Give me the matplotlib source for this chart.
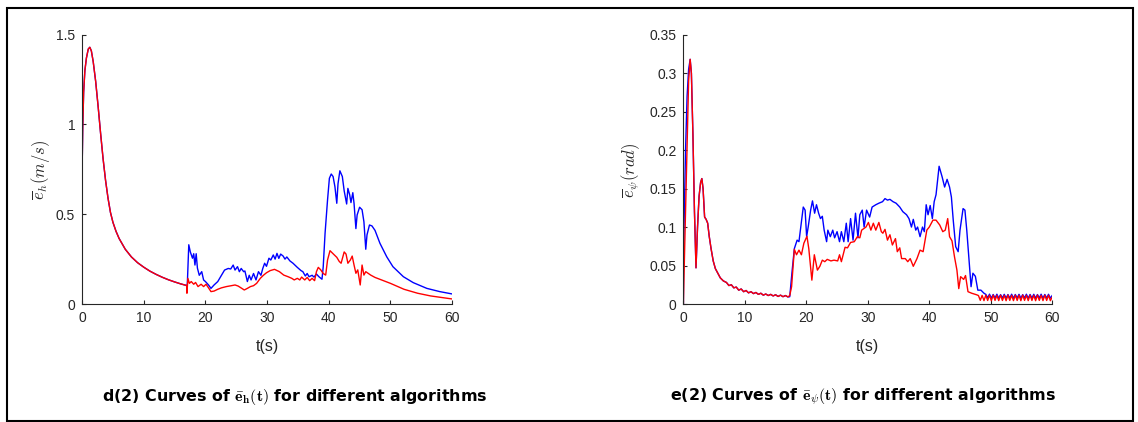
import matplotlib
matplotlib.use("Agg")
import matplotlib.pyplot as plt
from matplotlib.patches import Rectangle

plt.rcParams['font.family'] = ['Liberation Sans', 'DejaVu Sans']
plt.rcParams['mathtext.fontset'] = 'cm'

# ---------------- Panel d(2): e_h ----------------
h_common_t = [0, 0.1, 0.25, 0.45, 0.7, 1.0, 1.25, 1.5, 1.8, 2.2, 2.6, 3.0, 3.4, 3.8, 4.2, 4.6,
              5.0, 5.5, 6.0, 7.0, 8.0, 9.0, 10, 11, 12, 13, 14, 15, 16, 16.95]
h_common_v = [0.74, 0.98, 1.18, 1.30, 1.37, 1.42, 1.43, 1.41, 1.35, 1.24, 1.10, 0.95, 0.81, 0.69, 0.59, 0.51,
              0.455, 0.405, 0.365, 0.305, 0.262, 0.23, 0.205, 0.183, 0.165, 0.149, 0.135, 0.123, 0.112, 0.103]

h_blue_t = [17.0, 17.05, 17.3, 17.55, 17.9, 18.1, 18.3, 18.5, 18.7, 19.0, 19.4, 19.7, 20.0, 20.5, 20.9, 21.4,
            22.0, 22.6, 23.1, 23.7, 24.1, 24.5, 24.8, 25.2, 25.5, 25.8, 26.2, 26.4, 26.8, 27.1, 27.4, 27.8,
            28.2, 28.6, 29.0, 29.3, 29.6, 29.9, 30.3, 30.6, 31.0, 31.3, 31.6, 31.9, 32.2, 32.6, 32.9, 33.2,
            33.7, 34.2, 34.9, 35.5, 35.8, 36.2, 36.5, 36.8, 37.3, 37.6, 38.0, 38.4, 38.9, 39.1, 39.4, 39.8,
            40.1, 40.4, 40.7, 41.0, 41.3, 41.5, 41.8, 42.2, 42.5, 42.9, 43.1, 43.4, 43.6, 43.9, 44.1, 44.4,
            44.6, 45.0, 45.4, 45.7, 46.0, 46.2, 46.6, 47.0, 47.5, 48.3, 49.4, 50.4, 52.1, 53.7, 55.9, 58.0, 60]
h_blue_v = [0.07, 0.10, 0.33, 0.29, 0.255, 0.28, 0.217, 0.28, 0.20, 0.16, 0.18, 0.134, 0.125, 0.106, 0.087, 0.106,
            0.125, 0.16, 0.189, 0.198, 0.195, 0.217, 0.189, 0.208, 0.18, 0.198, 0.18, 0.184, 0.125, 0.16, 0.134, 0.17,
            0.134, 0.18, 0.16, 0.198, 0.227, 0.21, 0.255, 0.245, 0.273, 0.25, 0.282, 0.254, 0.278, 0.267, 0.25, 0.262,
            0.24, 0.227, 0.204, 0.186, 0.18, 0.156, 0.17, 0.152, 0.16, 0.15, 0.167, 0.152, 0.138, 0.207, 0.394, 0.579,
            0.70, 0.724, 0.71, 0.653, 0.561, 0.67, 0.742, 0.71, 0.63, 0.557, 0.644, 0.607, 0.565, 0.62, 0.56, 0.42,
            0.496, 0.539, 0.525, 0.458, 0.305, 0.385, 0.44, 0.435, 0.41, 0.338, 0.263, 0.208, 0.152, 0.119, 0.087, 0.069, 0.056]

h_red_t = [17.0, 17.15, 17.4, 17.7, 18.1, 18.4, 18.8, 19.3, 19.7, 20.1, 20.5, 20.9, 21.4, 22.0, 22.6, 23.4,
           24.2, 24.8, 25.3, 25.9, 26.3, 26.8, 27.3, 27.8, 28.3, 28.9, 29.4, 29.9, 30.5, 31.2, 32.0, 32.7,
           33.4, 34.0, 34.4, 34.9, 35.3, 35.6, 36.1, 36.5, 36.9, 37.3, 37.7, 38.0, 38.3, 38.7, 39.1, 39.5,
           39.8, 40.2, 40.7, 41.3, 41.7, 42.0, 42.5, 42.8, 43.1, 43.5, 43.8, 44.1, 44.4, 44.7, 45.1, 45.4,
           45.7, 46.0, 46.8, 47.5, 50.0, 52.2, 54.4, 56.5, 60]
h_red_v = [0.06, 0.143, 0.115, 0.125, 0.11, 0.12, 0.097, 0.11, 0.097, 0.11, 0.09, 0.069, 0.072, 0.082, 0.09, 0.097,
           0.102, 0.106, 0.10, 0.087, 0.078, 0.087, 0.097, 0.102, 0.115, 0.143, 0.16, 0.174, 0.186, 0.193, 0.18, 0.161,
           0.152, 0.143, 0.134, 0.143, 0.134, 0.15, 0.134, 0.148, 0.13, 0.143, 0.13, 0.18, 0.204, 0.19, 0.17, 0.161,
           0.245, 0.297, 0.28, 0.26, 0.237, 0.227, 0.29, 0.278, 0.227, 0.245, 0.267, 0.217, 0.171, 0.19, 0.106, 0.217,
           0.161, 0.18, 0.161, 0.148, 0.115, 0.082, 0.06, 0.045, 0.028]

# ---------------- Panel e(2): e_psi ----------------
p_blue_rise_t = [0, 0.03, 0.1, 0.35, 0.6, 0.85]
p_blue_rise_v = [0.0, 0.05, 0.1, 0.2, 0.27, 0.305]
p_red_rise_t = [0, 0.08, 0.85]
p_red_rise_v = [0.0, 0.03, 0.29]

p_common_t = [1.1, 1.3, 1.55, 1.8, 2.05, 2.3, 2.55, 2.8, 3.0, 3.2, 3.45, 3.7, 3.95,
              4.2, 4.5, 4.85, 5.2, 5.6, 6.0, 6.5, 7.0, 7.4, 7.8, 8.2, 8.6, 9.0, 9.4, 9.8, 10.2, 10.6,
              11.0, 11.4, 11.8, 12.2, 12.6, 13.0, 13.4, 13.8, 14.2, 14.6, 15.0, 15.4, 15.8, 16.2, 16.6, 17.0]
p_common_v = [0.318, 0.30, 0.22, 0.12, 0.047, 0.10, 0.14, 0.158, 0.163, 0.15, 0.113, 0.11, 0.105,
              0.088, 0.072, 0.056, 0.046, 0.040, 0.034, 0.030, 0.028, 0.024, 0.025, 0.021, 0.022, 0.018, 0.0195, 0.016, 0.0175, 0.0145,
              0.016, 0.0135, 0.015, 0.0125, 0.014, 0.0115, 0.013, 0.011, 0.0125, 0.0105, 0.012, 0.0098, 0.0115, 0.0095, 0.011, 0.0092]

p_blue_t = [17.3, 17.7, 18.05, 18.5, 18.8, 19.1, 19.5, 19.8, 20.05, 20.3, 20.7, 21.0, 21.35, 21.65, 22.0, 22.3,
            22.6, 22.9, 23.3, 23.5, 23.9, 24.3, 24.6, 25.0, 25.4, 25.7, 26.1, 26.5, 26.8, 27.2, 27.6, 28.0,
            28.4, 28.7, 29.1, 29.4, 29.8, 30.3, 30.7, 31.3, 31.8, 32.4, 32.8, 33.2, 33.6, 34.1, 34.6, 35.2,
            35.7, 36.3, 36.7, 37.1, 37.4, 37.8, 38.1, 38.5, 38.9, 39.2, 39.5, 39.8, 40.15, 40.5, 40.8, 41.1,
            41.6, 42.1, 42.5, 42.9, 43.3, 43.6, 43.9, 44.3, 44.7, 45.0, 45.5, 45.8, 46.1, 46.5, 46.8, 47.1,
            47.5, 47.9, 48.4, 48.9,
            49.2, 49.5, 49.8, 50.1, 50.4, 50.7, 51.0, 51.3, 51.6, 51.9, 52.2, 52.5, 52.8, 53.1, 53.4, 53.7,
            54.0, 54.3, 54.6, 54.9, 55.2, 55.5, 55.8, 56.1, 56.4, 56.7, 57.0, 57.3, 57.6, 57.9, 58.2, 58.5,
            58.8, 59.1, 59.4, 59.7, 60.0]
p_blue_v = [0.0095, 0.044, 0.072, 0.083, 0.081, 0.10, 0.126, 0.122, 0.0875, 0.10, 0.122, 0.134, 0.118, 0.129, 0.118, 0.111,
            0.114, 0.096, 0.081, 0.096, 0.0875, 0.096, 0.086, 0.094, 0.081, 0.094, 0.081, 0.105, 0.081, 0.111, 0.083, 0.118,
            0.086, 0.116, 0.122, 0.10, 0.122, 0.113, 0.126, 0.129, 0.131, 0.133, 0.137, 0.135, 0.136, 0.133, 0.131, 0.126,
            0.120, 0.116, 0.111, 0.10, 0.11, 0.096, 0.10, 0.0875, 0.10, 0.094, 0.129, 0.116, 0.128, 0.111, 0.133, 0.142,
            0.179, 0.165, 0.152, 0.162, 0.152, 0.139, 0.109, 0.0745, 0.068, 0.096, 0.124, 0.122, 0.096, 0.053, 0.0225, 0.040,
            0.036, 0.018, 0.018, 0.014,
            0.0125, 0.0080, 0.0128, 0.0076, 0.0124, 0.0078, 0.0127, 0.0075, 0.0122, 0.0079, 0.0126, 0.0076, 0.0123, 0.0077, 0.0127, 0.0075,
            0.0124, 0.0078, 0.0126, 0.0076, 0.0122, 0.0079, 0.0127, 0.0075, 0.0124, 0.0077, 0.0126, 0.0076, 0.0123, 0.0078, 0.0127, 0.0075,
            0.0124, 0.0077, 0.0126, 0.0076, 0.0110]

p_red_t = [17.3, 17.6, 18.05, 18.4, 18.8, 19.2, 19.6, 20.1, 20.4, 20.9, 21.3, 21.8, 22.2, 22.6, 23.0, 23.4,
           24.0, 24.5, 25.1, 25.4, 25.7, 26.3, 26.7, 27.2, 27.8, 28.3, 28.7, 29.0, 29.7, 30.1, 30.5, 30.9,
           31.3, 31.8, 32.2, 32.45, 32.8, 33.2, 33.6, 34.0, 34.5, 34.8, 35.2, 35.5, 36.1, 36.5, 36.9, 37.4,
           38.0, 38.5, 39.0, 39.6, 40.0, 40.6, 41.1, 41.7, 42.2, 42.6, 43.0, 43.3, 43.7, 44.1, 44.5, 44.8,
           45.1, 45.6, 45.9, 46.3, 46.9, 47.7,
           48.0, 48.3, 48.6, 48.9, 49.2, 49.5, 49.8, 50.1, 50.4, 50.7, 51.0, 51.3, 51.6, 51.9, 52.2, 52.5,
           52.8, 53.1, 53.4, 53.7, 54.0, 54.3, 54.6, 54.9, 55.2, 55.5, 55.8, 56.1, 56.4, 56.7, 57.0, 57.3,
           57.6, 57.9, 58.2, 58.5, 58.8, 59.1, 59.4, 59.7, 60.0]
p_red_v = [0.011, 0.0225, 0.071, 0.064, 0.070, 0.064, 0.079, 0.088, 0.072, 0.031, 0.064, 0.044, 0.049, 0.057, 0.055, 0.058,
           0.056, 0.057, 0.056, 0.064, 0.055, 0.0737, 0.073, 0.080, 0.081, 0.0875, 0.086, 0.096, 0.10, 0.106, 0.096, 0.105,
           0.096, 0.106, 0.094, 0.092, 0.097, 0.083, 0.09, 0.0767, 0.085, 0.068, 0.073, 0.059, 0.059, 0.055, 0.059, 0.049,
           0.059, 0.070, 0.068, 0.096, 0.10, 0.109, 0.109, 0.1027, 0.094, 0.096, 0.111, 0.0875, 0.082, 0.0615, 0.044, 0.020,
           0.0355, 0.032, 0.037, 0.016, 0.014, 0.012,
           0.0110, 0.0048, 0.0112, 0.0044, 0.0115, 0.0046, 0.0113, 0.0043, 0.0116, 0.0047, 0.0112, 0.0044, 0.0115, 0.0046, 0.0113, 0.0043,
           0.0116, 0.0047, 0.0112, 0.0044, 0.0115, 0.0046, 0.0113, 0.0043, 0.0116, 0.0047, 0.0112, 0.0044, 0.0115, 0.0046, 0.0113, 0.0043,
           0.0116, 0.0047, 0.0112, 0.0044, 0.0115, 0.0046, 0.0113, 0.0043, 0.0090]

h_yticks = [0, 0.5, 1, 1.5]
h_yticklabels = ['0', '0.5', '1', '1.5']
p_yticks = [0, 0.05, 0.1, 0.15, 0.2, 0.25, 0.3, 0.35]
p_yticklabels = ['0', '0.05', '0.1', '0.15', '0.2', '0.25', '0.3', '0.35']
xticks = [0, 10, 20, 30, 40, 50, 60]

W, H = 1138, 422
fig = plt.figure(figsize=(W / 100, H / 100), dpi=100)

def px_axes(l, r, t, b):
    return fig.add_axes([l / W, (H - b) / H, (r - l) / W, (b - t) / H])

ax1 = px_axes(82.1, 452.1, 34.7, 304)
ax2 = px_axes(683.4, 1052.2, 34.7, 304)

grey = '#262626'
lw = 1.0
ax1.plot(h_common_t + h_blue_t, h_common_v + h_blue_v, color='#0000ff', lw=lw)
ax1.plot(h_common_t + h_red_t, h_common_v + h_red_v, color='#ff0000', lw=lw)
ax2.plot(p_blue_rise_t + p_common_t + p_blue_t, p_blue_rise_v + p_common_v + p_blue_v, color='#0000ff', lw=lw)
ax2.plot(p_red_rise_t + p_common_t + p_red_t, p_red_rise_v + p_common_v + p_red_v, color='#ff0000', lw=lw)

for ax, yt, ytl, ymax in [(ax1, h_yticks, h_yticklabels, 1.5), (ax2, p_yticks, p_yticklabels, 0.35)]:
    ax.set_xlim(0, 60)
    ax.set_ylim(0, ymax)
    ax.set_xticks(xticks)
    ax.set_xticklabels([str(x) for x in xticks])
    ax.set_yticks(yt)
    ax.set_yticklabels(ytl)
    for s in ['top', 'right']:
        ax.spines[s].set_visible(False)
    for s in ['left', 'bottom']:
        ax.spines[s].set_color(grey)
        ax.spines[s].set_linewidth(0.8)
    ax.tick_params(direction='in', length=3, width=0.8, color=grey, labelcolor=grey,
                   labelsize=10, pad=5)
    ax.patch.set_alpha(0)

# axis labels
fig.text((82.1 + 452.1) / 2 / W, (H - 347) / H, 't(s)', ha='center', va='center', fontsize=11.5, color=grey)
fig.text((683.4 + 1052.2) / 2 / W, (H - 347) / H, 't(s)', ha='center', va='center', fontsize=11.5, color=grey)
fig.text(40 / W, (H - 170) / H, r'$\overline{e}_{h}(m/s)$', rotation=90, ha='center', va='center',
         fontsize=12, color=grey)
fig.text(631 / W, (H - 170) / H, r'$\overline{e}_{\psi}(rad)$', rotation=90, ha='center', va='center',
         fontsize=12, color=grey)

# captions
cap_font = dict(ha='center', va='center', fontsize=11.4, fontweight='bold', color='black',
                family=['DejaVu Sans'])
fig.text(295 / W, (H - 397) / H, r'd(2) Curves of $\bar{\mathbf{e}}_{\mathbf{h}}(\mathbf{t})$ for different algorithms',
         **cap_font)
fig.text(863 / W, (H - 397) / H, r'e(2) Curves of $\bar{\mathbf{e}}_{\psi}(\mathbf{t})$ for different algorithms',
         **cap_font)

# outer frame
fig.add_artist(Rectangle((7 / W, 1 / H), (1133 - 7) / W, (421 - 7.5) / H, transform=fig.transFigure,
                         fill=False, edgecolor='black', lw=1.5))

fig.savefig('out.png', dpi=100)
